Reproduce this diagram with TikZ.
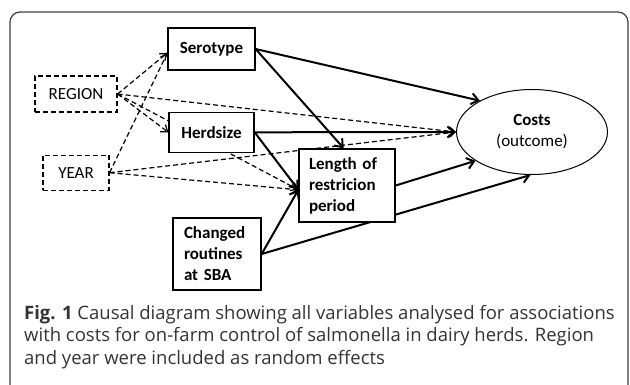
\documentclass[tikz,border=0pt]{standalone}
\usepackage{fontspec}
\setmainfont{Carlito}
\newfontfamily\capfont{Open Sans}
\usepackage{tikz}
\usetikzlibrary{positioning, arrows.meta, shapes.geometric, backgrounds}

\begin{document}
\begin{tikzpicture}
    [
      x=1pt, y=-1pt,
      every node/.style = {font=\fontsize{17}{21}\selectfont, inner sep=0pt},
      var/.style = {shape=rectangle, draw, line width=1.3pt, fill=white, font=\fontsize{17}{21}\selectfont\bfseries},
      rand/.style = {shape=rectangle, draw, line width=1.2pt, dash pattern=on 5pt off 3pt, fill=white},
      outcome/.style = {shape=ellipse, draw, line width=1pt, fill=white, align=center, minimum width=151pt, minimum height=85pt},
      cause/.style = {line width=2pt, -{Straight Barb[length=7pt,width=11pt]}},
      confound/.style = {line width=1.2pt, dash pattern=on 5pt off 3pt, -{Straight Barb[length=6pt,width=9pt]}}
    ]

    \useasboundingbox (0,0) rectangle (630,384);
    \draw[rounded corners=10pt, line width=1.2pt, black!75] (10,12) rectangle (628,400);

    \node[var, minimum width=87pt, minimum height=42pt] (sero) at (211.5,49) {Serotype};
    \node[var, minimum width=85pt, minimum height=40pt, below=41pt of sero] (herd) {Herdsize};
    \node[rand, minimum width=82pt, minimum height=36pt] (region) at (76,94) {REGION};
    \node[rand, minimum width=66pt, minimum height=35pt, below=42pt of region] (year) {YEAR};
    \node[var, align=left, text width=76pt, inner xsep=10pt, minimum height=73pt] (length) at (347,185.5)
      {Length of\\ restricion\\ period};
    \node[var, align=left, text width=66pt, inner xsep=11pt, minimum height=72pt] (sba) at (217,254)
      {Changed\\ routines\\ at SBA};
    \node[outcome] (costs) at (532,132) {\textbf{Costs}\\ (outcome)};

    \node[anchor=north west, align=left, text=black!80, font=\capfont\fontsize{18.5}{22.5}\selectfont] (caption) at (24,305)
      {\textbf{Fig. 1} Causal diagram showing all variables analysed for associations\\
       with costs for on-farm control of salmonella in dairy herds. Region\\
       and year were included as random effects};

    \begin{scope}[on background layer]
      % random effects
      \draw[confound] (region.east) -- (sero.185);
      \draw[confound] (region.east) -- (herd.west);
      \draw[confound] (region.east) -- (length.185);
      \draw[confound] (region.east) -- (costs.west);
      \draw[confound] (year.east) -- (sero.185);
      \draw[confound] (year.east) -- (costs.west);
      \draw[confound] (year.east) -- (length.185);
      % fixed effects
      \draw[cause] (sero.east) -- (costs.149);
      \draw[cause] (sero.east) -- (length.95);
      \draw[cause] (herd.east) -- (costs.west);
      \draw[cause] (herd.east) -- (length.185);
      \draw[cause] (sba.east) -- (length.185);
      \draw[cause] (sba.east) -- (costs.268);
      \draw[cause] (length.east) -- (costs.207);
    \end{scope}
\end{tikzpicture}
\end{document}
